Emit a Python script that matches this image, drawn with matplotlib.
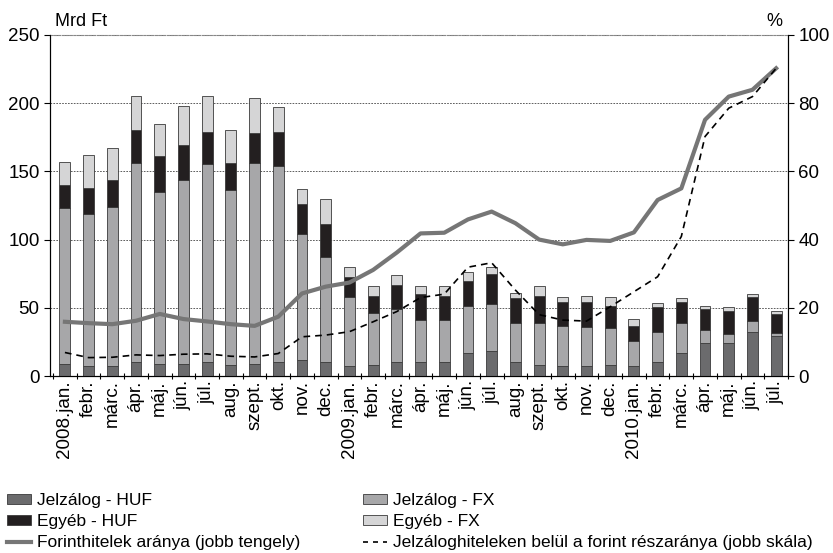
import numpy as np
import matplotlib
matplotlib.use("Agg")
import matplotlib.pyplot as plt
from matplotlib.patches import Patch
from matplotlib.lines import Line2D

plt.rcParams['font.family'] = ['Liberation Sans', 'DejaVu Sans']

labels = ['2008.jan.', 'febr.', 'márc.', 'ápr.', 'máj.', 'jún.', 'júl.', 'aug.', 'szept.',
          'okt.', 'nov.', 'dec.', '2009.jan.', 'febr.', 'márc.', 'ápr.', 'máj.', 'jún.',
          'júl.', 'aug.', 'szept.', 'okt.', 'nov.', 'dec.', '2010.jan.', 'febr.', 'márc.',
          'ápr.', 'máj.', 'jún.', 'júl.']

jelz_huf = [9, 7, 7, 10, 9, 9, 10, 8, 9, 10, 12, 10.5, 7.6, 8, 10, 10, 10, 17, 18, 10,
            8, 7, 7, 8, 7, 10.5, 17, 24, 24.5, 32.6, 29]
jelz_fx = [114, 112, 117, 146, 126, 135, 145, 128, 147, 144, 92, 77, 50, 38, 39, 31, 31,
           34, 35, 29, 31, 30, 29, 27, 19, 22, 21.5, 10, 6.4, 7.4, 2.7]
egyeb_huf = [17, 19, 20, 24, 26, 25, 24, 20, 22, 25, 22, 24, 14.7, 13, 18, 19, 18, 19, 22,
             18, 20, 17, 18, 16, 11, 18, 15.5, 15, 17, 17.6, 14]
egyeb_fx = [17, 24, 23, 25, 24, 28.5, 26, 24, 26, 18, 11, 18, 7.6, 7, 7, 6, 7, 6.5, 4.6,
            4, 7, 4, 5, 7, 5, 2.7, 3.2, 2.2, 2.4, 2.4, 2]

forint_arany = [15.9, 15.5, 15.2, 16.2, 18.2, 16.7, 16.0, 15.2, 14.7, 17.4, 24.2, 26.2,
                27.4, 31.1, 36.2, 41.8, 42.0, 45.9, 48.2, 44.8, 40.0, 38.6, 39.9, 39.6,
                42.1, 51.6, 55.0, 75.1, 81.9, 83.9, 90.2]
jelz_forint = [6.9, 5.4, 5.5, 6.2, 6.0, 6.4, 6.5, 5.8, 5.6, 6.6, 11.5, 12.0, 13.0, 15.9,
               18.9, 23.0, 24.0, 31.9, 33.2, 25.2, 18.0, 16.4, 16.1, 20.3, 24.7, 29.1,
               40.9, 70.2, 78.5, 81.9, 90.2]

c_jhuf = '#6b6b6d'
c_jfx = '#a7a7a9'
c_ehuf = '#231f20'
c_efx = '#d5d5d6'
c_line = '#767676'

x = np.arange(len(labels))
w = 0.46

fig = plt.figure(figsize=(8.33, 5.53), dpi=100)
ax = fig.add_axes([0.060, 0.320, 0.886, 0.617])

b1 = np.array(jelz_huf)
b2 = b1 + np.array(jelz_fx)
b3 = b2 + np.array(egyeb_huf)
ec = '#3a3a3a'
ax.bar(x, jelz_huf, w, color=c_jhuf, edgecolor=ec, linewidth=0.6, zorder=3)
ax.bar(x, jelz_fx, w, bottom=b1, color=c_jfx, edgecolor=ec, linewidth=0.6, zorder=3)
ax.bar(x, egyeb_huf, w, bottom=b2, color=c_ehuf, edgecolor=ec, linewidth=0.6, zorder=3)
ax.bar(x, egyeb_fx, w, bottom=b3, color=c_efx, edgecolor=ec, linewidth=0.6, zorder=3)

ax.set_xlim(-0.63, 30.47)
ax.set_ylim(0, 250)
ax.set_yticks(range(0, 251, 50))
ax.yaxis.grid(True, linestyle=(0, (2, 1.5)), color='#444444', linewidth=0.6, zorder=0)
ax.set_axisbelow(True)
ax.spines['top'].set_linestyle((0, (2, 1.5)))
ax.spines['top'].set_color('#888888')
ax.spines['top'].set_linewidth(0.8)

ax.set_xticks(x)
ax.set_xticklabels(labels, rotation=90, fontsize=13.5)
ax.set_xticks(np.arange(-0.5, 31, 1), minor=True)
ax.tick_params(axis='x', which='major', length=0, pad=3)
ax.tick_params(axis='x', which='minor', length=4, width=0.8, direction='inout')
ax.tick_params(axis='y', labelsize=13.5, length=4, width=0.8)

ax2 = ax.twinx()
ax2.set_ylim(0, 100)
ax2.set_yticks(range(0, 101, 20))
ax2.tick_params(axis='y', labelsize=13.5, length=4, width=0.8)
ax2.spines['top'].set_visible(False)
ax2.plot(x, forint_arany, color=c_line, linewidth=3, solid_joinstyle='round', zorder=4)
ax2.plot(x, jelz_forint, color='black', linewidth=1.2, linestyle=(0, (4, 3)), zorder=4)

fig.text(0.066, 0.962, 'Mrd Ft', fontsize=13, ha='left', va='center')
fig.text(0.920, 0.962, '%', fontsize=13, ha='left', va='center')

handles = [Patch(facecolor=c_jhuf, edgecolor=ec, linewidth=0.6),
           Patch(facecolor=c_ehuf, edgecolor=ec, linewidth=0.6),
           Line2D([], [], color=c_line, linewidth=3),
           Patch(facecolor=c_jfx, edgecolor=ec, linewidth=0.6),
           Patch(facecolor=c_efx, edgecolor=ec, linewidth=0.6),
           Line2D([], [], color='black', linewidth=1.2, linestyle=(0, (3, 3)))]
names = ['Jelzálog - HUF', 'Egyéb - HUF', 'Forinthitelek aránya (jobb tengely)',
         'Jelzálog - FX', 'Egyéb - FX',
         'Jelzáloghiteleken belül a forint részaránya (jobb skála)']
fig.legend(handles, names, ncol=2, loc='lower left', bbox_to_anchor=(0.0, -0.008),
           borderaxespad=0, frameon=False, fontsize=12.5, handlelength=1.4,
           handleheight=0.5, labelspacing=0.35, columnspacing=3.6, handletextpad=0.35)

fig.savefig('out.png', dpi=100)
